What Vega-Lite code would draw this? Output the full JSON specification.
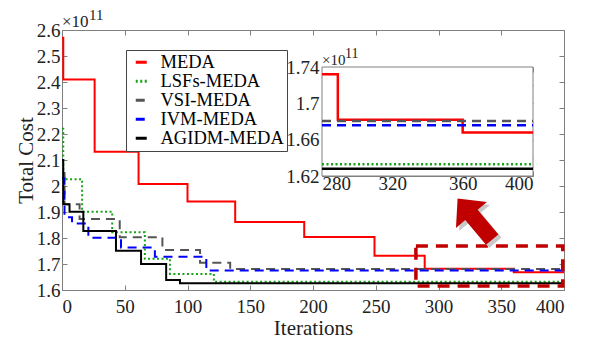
{
  "$schema": "https://vega.github.io/schema/vega-lite/v6.json",
  "width": 502,
  "height": 260,
  "autosize": {"type": "none"},
  "padding": {"left": 62, "top": 30, "right": 29, "bottom": 52},
  "background": "white",
  "config": {
    "font": "Liberation Serif",
    "view": {"stroke": "#808080", "strokeWidth": 1},
    "axis": {
      "grid": false,
      "domainColor": "#808080",
      "tickColor": "#808080",
      "labelColor": "#222222",
      "titleColor": "#222222",
      "labelFont": "Liberation Serif",
      "titleFont": "Liberation Serif",
      "labelFontSize": 19,
      "titleFontSize": 21,
      "titleFontWeight": "normal",
      "tickSize": -5,
      "labelPadding": 8
    },
    "legend": {
      "orient": "none",
      "legendX": 64,
      "legendY": 20,
      "labelFont": "Liberation Serif",
      "labelFontSize": 18.5,
      "labelColor": "#000000",
      "symbolType": "stroke",
      "symbolSize": 121,
      "symbolStrokeWidth": 3,
      "strokeColor": "#444444",
      "fillColor": "white",
      "padding": 3,
      "rowPadding": 0,
      "labelOffset": 10,
      "symbolOffset": 3,
      "labelLimit": 300
    }
  },
  "datasets": {
    "main": [
      {"algo": "MEDA", "iter": 0, "cost": 2.57},
      {"algo": "MEDA", "iter": 1, "cost": 2.41},
      {"algo": "MEDA", "iter": 26, "cost": 2.132},
      {"algo": "MEDA", "iter": 61, "cost": 2.008},
      {"algo": "MEDA", "iter": 100, "cost": 1.94},
      {"algo": "MEDA", "iter": 138, "cost": 1.862},
      {"algo": "MEDA", "iter": 193, "cost": 1.804},
      {"algo": "MEDA", "iter": 249, "cost": 1.732},
      {"algo": "MEDA", "iter": 289, "cost": 1.682},
      {"algo": "MEDA", "iter": 360, "cost": 1.668},
      {"algo": "MEDA", "iter": 400, "cost": 1.668},
      {"algo": "LSFs-MEDA", "iter": 0, "cost": 2.22},
      {"algo": "LSFs-MEDA", "iter": 1, "cost": 2.026},
      {"algo": "LSFs-MEDA", "iter": 16, "cost": 1.901},
      {"algo": "LSFs-MEDA", "iter": 40, "cost": 1.822},
      {"algo": "LSFs-MEDA", "iter": 66, "cost": 1.72},
      {"algo": "LSFs-MEDA", "iter": 86, "cost": 1.662},
      {"algo": "LSFs-MEDA", "iter": 121, "cost": 1.632},
      {"algo": "LSFs-MEDA", "iter": 400, "cost": 1.632},
      {"algo": "VSI-MEDA", "iter": 0, "cost": 2.05},
      {"algo": "VSI-MEDA", "iter": 2, "cost": 1.93},
      {"algo": "VSI-MEDA", "iter": 14, "cost": 1.873},
      {"algo": "VSI-MEDA", "iter": 46, "cost": 1.803},
      {"algo": "VSI-MEDA", "iter": 80, "cost": 1.754},
      {"algo": "VSI-MEDA", "iter": 110, "cost": 1.705},
      {"algo": "VSI-MEDA", "iter": 134, "cost": 1.681},
      {"algo": "VSI-MEDA", "iter": 400, "cost": 1.681},
      {"algo": "IVM-MEDA", "iter": 0, "cost": 2.03},
      {"algo": "IVM-MEDA", "iter": 2, "cost": 1.88},
      {"algo": "IVM-MEDA", "iter": 8, "cost": 1.856},
      {"algo": "IVM-MEDA", "iter": 21, "cost": 1.801},
      {"algo": "IVM-MEDA", "iter": 47, "cost": 1.763},
      {"algo": "IVM-MEDA", "iter": 74, "cost": 1.728},
      {"algo": "IVM-MEDA", "iter": 115, "cost": 1.675},
      {"algo": "IVM-MEDA", "iter": 400, "cost": 1.675},
      {"algo": "AGIDM-MEDA", "iter": 0, "cost": 2.1},
      {"algo": "AGIDM-MEDA", "iter": 1, "cost": 1.93},
      {"algo": "AGIDM-MEDA", "iter": 6, "cost": 1.901},
      {"algo": "AGIDM-MEDA", "iter": 17, "cost": 1.827},
      {"algo": "AGIDM-MEDA", "iter": 43, "cost": 1.751},
      {"algo": "AGIDM-MEDA", "iter": 63, "cost": 1.7},
      {"algo": "AGIDM-MEDA", "iter": 83, "cost": 1.638},
      {"algo": "AGIDM-MEDA", "iter": 94, "cost": 1.626},
      {"algo": "AGIDM-MEDA", "iter": 400, "cost": 1.626}
    ],
    "inset": [
      {"algo": "MEDA", "iter": 280, "cost": 1.732},
      {"algo": "MEDA", "iter": 289, "cost": 1.682},
      {"algo": "MEDA", "iter": 360, "cost": 1.668},
      {"algo": "MEDA", "iter": 400, "cost": 1.668},
      {"algo": "LSFs-MEDA", "iter": 280, "cost": 1.633},
      {"algo": "LSFs-MEDA", "iter": 400, "cost": 1.633},
      {"algo": "VSI-MEDA", "iter": 280, "cost": 1.6806},
      {"algo": "VSI-MEDA", "iter": 400, "cost": 1.6806},
      {"algo": "IVM-MEDA", "iter": 280, "cost": 1.676},
      {"algo": "IVM-MEDA", "iter": 400, "cost": 1.676},
      {"algo": "AGIDM-MEDA", "iter": 280, "cost": 1.628},
      {"algo": "AGIDM-MEDA", "iter": 400, "cost": 1.628}
    ],
    "zoombox": [{"x0": 282, "x1": 399, "y0": 1.615, "y1": 1.769}],
    "arrow": [
      {"kind": "shadow", "iter": 331.5, "cost": 1.861},
      {"kind": "arrow", "iter": 329, "cost": 1.873}
    ],
    "insetframe": [{"x0": 280, "x1": 400, "y0": 1.62, "y1": 1.74}],
    "mainnote": [{"iter": 0, "cost": 2.6, "base": "×10", "exp": "11"}],
    "insetnote": [{"iter": 280, "cost": 1.74, "base": "×10", "exp": "11"}]
  },
  "layer": [
    {
      "layer": [
        {
          "data": {"name": "main"},
          "mark": {"type": "line", "interpolate": "step-after", "strokeWidth": 2},
          "encoding": {
            "x": {
              "field": "iter", "type": "quantitative",
              "scale": {"domain": [0, 400], "nice": false, "zero": false},
              "axis": {"orient": "bottom", "values": [0, 50, 100, 150, 200, 250, 300, 350, 400], "title": "Iterations", "labelPadding": 12, "titlePadding": 1}
            },
            "y": {
              "field": "cost", "type": "quantitative",
              "scale": {"domain": [1.6, 2.6], "nice": false, "zero": false},
              "axis": {"orient": "left", "values": [1.6, 1.7, 1.8, 1.9, 2, 2.1, 2.2, 2.3, 2.4, 2.5, 2.6], "format": "~g", "title": "Total Cost", "labelPadding": 7, "titlePadding": 0}
            },
            "color": {
              "field": "algo", "type": "nominal",
              "scale": {"domain": ["MEDA", "LSFs-MEDA", "VSI-MEDA", "IVM-MEDA", "AGIDM-MEDA"], "range": ["#ff0000", "#17a317", "#555555", "#0000ff", "#000000"]},
              "legend": {"title": null}
            },
            "strokeDash": {
              "field": "algo", "type": "nominal",
              "scale": {"domain": ["MEDA", "LSFs-MEDA", "VSI-MEDA", "IVM-MEDA", "AGIDM-MEDA"], "range": [[1, 0], [2, 2.5], [9, 6], [9, 6], [1, 0]]},
              "legend": {"title": null}
            }
          }
        },
        {
          "data": {"name": "zoombox"},
          "mark": {"type": "rect", "fill": null, "stroke": "#c00000", "strokeWidth": 3.5, "strokeDash": [12, 8]},
          "encoding": {
            "x": {"field": "x0", "type": "quantitative", "axis": {"orient": "top", "values": [0, 50, 100, 150, 200, 250, 300, 350, 400], "labels": false, "domain": false, "title": null}},
            "x2": {"field": "x1"},
            "y": {"field": "y0", "type": "quantitative", "axis": {"orient": "right", "values": [1.6, 1.7, 1.8, 1.9, 2, 2.1, 2.2, 2.3, 2.4, 2.5, 2.6], "labels": false, "domain": false, "title": null}},
            "y2": {"field": "y1"}
          }
        },
        {
          "data": {"name": "arrow"},
          "mark": {"type": "point", "shape": "M0,-1L0.75,-0.2L0.3,-0.2L0.3,1L-0.3,1L-0.3,-0.2L-0.75,-0.2Z", "filled": true, "size": 2900, "angle": -40, "opacity": 1, "strokeWidth": 0},
          "encoding": {
            "x": {"field": "iter", "type": "quantitative", "axis": null},
            "y": {"field": "cost", "type": "quantitative", "axis": null},
            "fill": {"field": "kind", "type": "nominal", "scale": {"domain": ["shadow", "arrow"], "range": ["#c8c8c8", "#c00000"]}, "legend": null}
          }
        },
        {
          "data": {"name": "mainnote"},
          "mark": {"type": "text", "align": "left", "baseline": "alphabetic", "dy": -3, "fontSize": 17, "font": "Liberation Serif", "color": "#222222"},
          "encoding": {
            "x": {"field": "iter", "type": "quantitative", "axis": null},
            "y": {"field": "cost", "type": "quantitative", "axis": null},
            "text": {"field": "base"}
          }
        },
        {
          "data": {"name": "mainnote"},
          "mark": {"type": "text", "align": "left", "baseline": "alphabetic", "dx": 27, "dy": -10, "fontSize": 15, "font": "Liberation Serif", "color": "#222222"},
          "encoding": {
            "x": {"field": "iter", "type": "quantitative", "axis": null},
            "y": {"field": "cost", "type": "quantitative", "axis": null},
            "text": {"field": "exp"}
          }
        }
      ],
      "resolve": {"axis": {"x": "independent", "y": "independent"}}
    },
    {
      "layer": [
        {
          "data": {"name": "insetframe"},
          "mark": {"type": "rect", "fill": "white", "stroke": "#808080", "strokeWidth": 1},
          "encoding": {
            "x": {
              "field": "x0", "type": "quantitative",
              "scale": {"domain": [280, 400], "nice": false, "zero": false, "range": [260, 471]},
              "axis": {"orient": "top", "offset": -37, "values": [280, 300, 320, 340, 360, 380, 400], "labels": false, "domain": false, "title": null}
            },
            "x2": {"field": "x1"},
            "y": {
              "field": "y0", "type": "quantitative",
              "scale": {"domain": [1.62, 1.74], "nice": false, "zero": false, "range": [146, 37]},
              "axis": {"orient": "right", "offset": -31, "values": [1.62, 1.64, 1.66, 1.68, 1.7, 1.72, 1.74], "labels": false, "domain": false, "title": null}
            },
            "y2": {"field": "y1"}
          }
        },
        {
          "data": {"name": "inset"},
          "mark": {"type": "line", "interpolate": "step-after", "strokeWidth": 2.5},
          "encoding": {
            "x": {
              "field": "iter", "type": "quantitative",
              "axis": {"orient": "bottom", "offset": -114, "values": [280, 300, 320, 340, 360, 380, 400], "labelExpr": "datum.value % 40 == 0 ? datum.label : ''", "title": null, "labelPadding": 3}
            },
            "y": {
              "field": "cost", "type": "quantitative",
              "axis": {"orient": "left", "offset": -260, "values": [1.62, 1.64, 1.66, 1.68, 1.7, 1.72, 1.74], "labelExpr": "round(datum.value * 100) % 4 == 2 ? datum.label : ''", "format": "~g", "title": null, "labelPadding": 8}
            },
            "color": {"field": "algo", "type": "nominal"},
            "strokeDash": {"field": "algo", "type": "nominal"}
          }
        },
        {
          "data": {"name": "insetnote"},
          "mark": {"type": "text", "align": "left", "baseline": "alphabetic", "dy": -2, "fontSize": 15, "font": "Liberation Serif", "color": "#222222"},
          "encoding": {
            "x": {"field": "iter", "type": "quantitative", "axis": null},
            "y": {"field": "cost", "type": "quantitative", "axis": null},
            "text": {"field": "base"}
          }
        },
        {
          "data": {"name": "insetnote"},
          "mark": {"type": "text", "align": "left", "baseline": "alphabetic", "dx": 23, "dy": -9, "fontSize": 14, "font": "Liberation Serif", "color": "#222222"},
          "encoding": {
            "x": {"field": "iter", "type": "quantitative", "axis": null},
            "y": {"field": "cost", "type": "quantitative", "axis": null},
            "text": {"field": "exp"}
          }
        }
      ],
      "resolve": {"axis": {"x": "independent", "y": "independent"}}
    }
  ],
  "resolve": {"scale": {"x": "independent", "y": "independent"}}
}
